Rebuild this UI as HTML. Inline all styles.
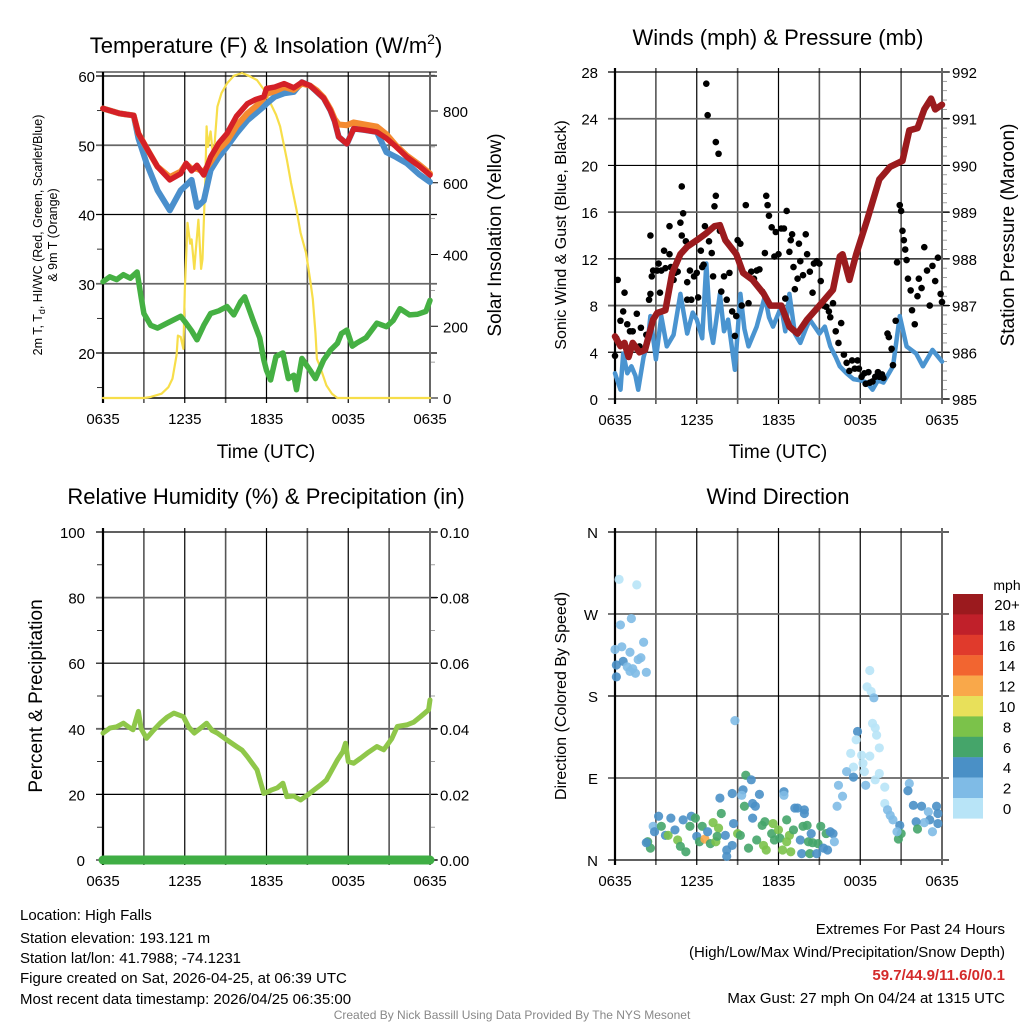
<!DOCTYPE html>
<html><head><meta charset="utf-8">
<style>
html,body{margin:0;padding:0;background:#fff;}
svg{display:block;font-family:"Liberation Sans",Arial,sans-serif;}
</style></head>
<body>
<svg id="c" width="1024" height="1024" viewBox="0 0 1024 1024" xmlns="http://www.w3.org/2000/svg">
<rect width="1024" height="1024" fill="#fff"/>
<g id="p1"></g>
<g id="p2"></g>
<g id="p3"></g>
<g id="p4"></g>
<g id="cb"></g>

<text x="266" y="53" font-size="22" text-anchor="middle">Temperature (F) &amp; Insolation (W/m<tspan dy="-9" font-size="14">2</tspan><tspan dy="9">)</tspan></text>
<text x="778" y="45" font-size="22" text-anchor="middle">Winds (mph) &amp; Pressure (mb)</text>
<text x="266" y="504" font-size="22" text-anchor="middle">Relative Humidity (%) &amp; Precipitation (in)</text>
<text x="778" y="504" font-size="22" text-anchor="middle">Wind Direction</text>

<text x="266" y="458" font-size="19" text-anchor="middle">Time (UTC)</text>
<text x="778" y="458" font-size="19" text-anchor="middle">Time (UTC)</text>

<text transform="translate(42,235) rotate(-90)" font-size="12.5" text-anchor="middle">2m T, T<tspan font-size="9" dy="3">d</tspan><tspan dy="-3">, HI/WC (Red, Green, Scarlet/Blue)</tspan></text>
<text transform="translate(57,235) rotate(-90)" font-size="12.5" text-anchor="middle">&amp; 9m T (Orange)</text>
<text transform="translate(501,235) rotate(-90)" font-size="19" text-anchor="middle">Solar Insolation (Yellow)</text>
<text transform="translate(566,235) rotate(-90)" font-size="16" text-anchor="middle">Sonic Wind &amp; Gust (Blue, Black)</text>
<text transform="translate(1014,235) rotate(-90)" font-size="19" text-anchor="middle">Station Pressure (Maroon)</text>
<text transform="translate(42,696) rotate(-90)" font-size="19" text-anchor="middle">Percent &amp; Precipitation</text>
<text transform="translate(566,696) rotate(-90)" font-size="16" text-anchor="middle">Direction (Colored By Speed)</text>

<g font-size="15">
<text x="20" y="920">Location: High Falls</text>
<text x="20" y="943">Station elevation: 193.121 m</text>
<text x="20" y="963">Station lat/lon: 41.7988; -74.1231</text>
<text x="20" y="983">Figure created on Sat, 2026-04-25, at 06:39 UTC</text>
<text x="20" y="1004">Most recent data timestamp: 2026/04/25 06:35:00</text>
</g>
<g font-size="15" text-anchor="end">
<text x="1005" y="934">Extremes For Past 24 Hours</text>
<text x="1005" y="957">(High/Low/Max Wind/Precipitation/Snow Depth)</text>
<text x="1005" y="980" fill="#d42a2a" font-weight="bold">59.7/44.9/11.6/0/0.1</text>
<text x="1005" y="1003">Max Gust: 27 mph On 04/24 at 1315 UTC</text>
</g>
<text x="512" y="1019" font-size="12" fill="#888" text-anchor="middle">Created By Nick Bassill Using Data Provided By The NYS Mesonet</text>
</svg>
<script>
// ---- Data ----
const timeLabels = ["0635","1235","1835","0035","0635"];
const tempTimes = [0,1.2,2.25,2.6,3.2,4.0,4.9,5.7,6.1,6.5,6.9,7.4,7.9,8.5,9.1,9.8,10.6,11.2,11.8,12.0,12.6,13.3,14.0,14.6,15.2,15.7,16.2,16.7,17.0,17.3,17.9,18.4,19.2,20.1,20.8,21.5,22.3,23.2,24];
const tempVals  = [55.3,54.6,54.3,51.7,49.6,46.9,45.0,45.9,47.4,46.3,47.1,45.7,48.3,50.3,51.7,54.2,56.0,56.6,57.0,58.2,58.4,58.9,58.3,59.1,58.6,57.7,56.8,55.0,53.5,51.2,50.2,52.4,52.2,51.9,51.0,49.8,48.3,47.0,45.7];
const orangeVals= [55.3,54.6,54.3,51.7,49.6,46.9,45.4,46.2,47.3,46.6,46.6,46.2,47.6,49.4,50.6,52.8,54.6,55.6,56.8,57.4,57.8,58.4,58.0,58.9,58.6,57.9,56.9,55.2,53.8,53.0,52.9,53.3,53.0,52.7,51.6,50.0,48.5,47.2,45.9];
const hiwcVals  = [55.3,54.6,54.3,51.0,47.4,43.5,40.6,43.5,44.2,45.0,41.1,42.0,46.4,48.3,49.8,51.7,53.6,54.6,55.6,56.0,57.0,57.5,57.7,59.1,58.6,57.7,56.8,55.0,53.5,51.2,50.2,52.4,52.2,51.9,49.0,48.3,47.4,45.8,44.7];
const dewTimes = [0,0.5,1.0,1.5,2.0,2.5,2.8,3.0,3.5,4.0,4.8,5.7,6.1,6.5,6.9,7.4,7.9,8.5,9.1,9.6,10.1,10.4,11.0,11.5,11.8,12.0,12.3,12.7,13.2,13.6,14.0,14.2,14.6,15.2,15.6,16.2,16.7,17.2,17.5,17.9,18.3,18.6,19.3,20.1,20.8,21.3,21.8,22.5,23.1,23.7,24];
const dewVals  = [30.3,31.0,30.6,31.3,30.8,31.7,28.0,25.7,24.0,23.6,24.4,25.3,24.3,23.2,21.9,24.0,25.7,26.1,26.7,25.5,27.4,28.1,24.8,22.2,19.0,17.5,16.1,19.5,20.0,16.3,16.8,14.7,19.2,17.5,16.3,19.0,20.4,21.4,22.8,23.3,21.0,21.4,22.2,24.3,23.8,24.7,26.4,25.5,25.6,26.0,27.6];
const solTimes = [0,3,3.5,4.3,4.8,5.1,5.4,5.5,5.7,5.9,6.0,6.2,6.4,6.5,6.7,6.8,7.0,7.2,7.3,7.5,7.6,7.7,7.9,8.1,8.4,8.7,9.1,9.6,10.2,10.7,11.3,11.8,12.3,12.7,13.0,13.5,13.8,14.2,14.5,14.9,15.2,15.4,15.6,15.7,15.9,16.4,16.8,17.2,24];
const solVals  = [0,0,3,12,30,54,120,174,170,137,300,488,430,442,360,405,497,360,387,600,757,700,743,664,812,850,877,898,906,898,886,860,821,790,757,664,600,525,460,405,330,276,180,109,91,35,12,0,0];
const windTimes = [0,0.4,0.6,0.9,1.2,1.5,1.7,2.1,2.4,2.6,3.0,3.4,3.8,4.3,4.8,5.3,5.7,6.0,6.4,6.7,7.0,7.2,7.7,8.0,8.3,8.8,9.2,9.5,9.8,10.4,11.0,11.3,11.6,12.2,12.5,12.8,13.2,13.6,14.0,14.3,15.0,15.4,15.8,16.2,16.5,17.0,17.5,18.0,18.5,18.9,19.3,19.7,20.1,20.4,20.9,21.4,22.1,22.6,23.0,23.3,24];
const windVals  = [2.2,0.8,3.9,2.2,2.8,2.0,0.8,3.6,4.8,7.1,3.4,7.1,4.5,5.5,9.0,5.6,7.4,6.8,5.2,11.6,6.0,4.8,9.0,5.8,6.8,2.5,9.0,6.0,4.5,6.2,8.8,7.0,6.2,7.9,5.8,9.0,5.6,4.8,6.0,6.8,5.6,6.2,4.5,3.6,2.8,2.2,1.7,1.6,1.4,0.8,1.6,1.4,2.2,2.8,7.1,4.5,3.9,2.8,3.6,4.2,3.2];
const presTimes = [0,0.4,0.7,1.0,1.3,1.8,2.2,2.8,3.1,3.7,4.2,4.8,5.3,6.0,6.7,7.3,7.7,8.1,8.9,9.4,10.1,10.9,11.4,12.2,12.8,13.4,14.1,15.0,16.0,16.5,16.7,17.2,17.7,18.5,19.4,20.2,21.1,21.6,22.2,22.7,23.2,23.5,24];
const presVals  = [986.34,986.13,986.2,985.9,986.2,986.0,986.05,986.7,986.84,986.9,987.7,988.1,988.26,988.4,988.55,988.7,988.72,988.4,988.1,987.7,987.55,987.26,987.0,987.0,986.55,986.4,986.7,987.0,987.34,988.05,988.1,987.55,988.1,988.83,989.7,989.97,990.1,990.75,990.8,991.2,991.43,991.2,991.3];
const gustTimes = [0,0.1,0.2,0.4,0.6,0.7,0.9,1.1,1.3,1.6,1.8,1.9,2.3,2.5,2.6,2.6,2.7,2.8,3.1,3.2,3.3,3.4,3.6,3.7,4,4,4.1,4.3,4.4,4.6,4.8,4.9,4.9,5,5.2,5.3,5.3,5.5,5.6,5.8,6,6.1,6.3,6.4,6.5,6.6,6.7,6.8,6.9,7.1,7.2,7.3,7.4,7.4,7.6,7.7,7.8,8,8.2,8.4,8.6,8.8,8.9,9,9.2,9.3,9.6,9.8,10,10.2,10.4,10.6,10.8,11,11.1,11.2,11.3,11.5,11.7,11.8,12,12.2,12.4,12.5,12.6,12.8,12.9,13,13.1,13.2,13.4,13.5,13.6,13.8,14,14.1,14.3,14.5,14.6,14.8,15,15.1,15.3,15.5,15.7,15.8,16,16.2,16.4,16.6,16.8,17,17.2,17.4,17.6,17.8,17.9,18.1,18.3,18.4,18.6,18.7,18.9,19.1,19.3,19.4,19.6,19.7,20,20.1,20.3,20.4,20.6,20.7,20.9,21,21.1,21.2,21.3,21.4,21.5,21.7,21.8,22,22.2,22.3,22.5,22.7,22.9,23.1,23.3,23.5,23.7,23.9,24];
const gustVals  = [3.7,5.2,10.2,6.7,7.5,9.1,6.4,5.8,5.8,7.3,4.5,6.1,5.5,8.5,9,14,10.5,11,11,11.6,9.1,11,12.7,11.2,14.8,12.4,11.3,10.2,10.8,10.9,15.1,14,18.2,15.9,13.5,8.5,10,11,8.5,10.5,10.8,8.7,12.7,11.3,11.5,14.8,27,24.3,13.5,12.5,10.5,16.5,17.4,22,21,14.4,9.2,10.5,8.5,10.8,7.5,5.4,7.1,13.6,13.3,8,16.6,8.2,10.9,10.3,11,11.1,9.2,12.5,17.4,16.6,15.7,14.7,12.2,14.3,12.4,14.6,14.6,8.6,16.1,12.6,13.6,14.1,11.3,9.4,10.3,13.3,11.8,10.6,14.1,12.4,10.9,9.1,11.6,11.8,11.6,10.1,8,7.9,7.5,7,8.2,5.8,4.8,6.5,3.8,3.1,2.4,3.3,2.6,3.3,2.6,1.9,2.2,1.3,2.3,1.4,1.5,1.9,2.3,1.9,2.1,1.8,5.6,5.3,4.3,2.9,6.7,11.7,16.6,16.1,14.4,13.6,12.8,11.9,10.3,9.3,7.6,6.4,8.8,10.3,9.5,13,11,8,11.4,10.1,12.1,9,8.3];
const rhTimes = [0,0.5,1.0,1.5,1.9,2.2,2.6,2.8,3.2,3.7,4.2,4.7,5.2,5.9,6.3,6.7,7.1,7.6,8.0,8.4,9.1,9.8,10.2,10.6,11.3,11.8,12.1,12.4,12.8,13.2,13.5,14.0,14.5,15.0,15.5,16.0,16.4,17.2,17.6,17.8,18.0,18.4,18.9,19.4,20.1,20.6,21.2,21.6,22.3,22.8,23.3,23.9,24];
const rhVals  = [38.7,40.2,40.6,41.7,40.5,39.7,45.3,40.0,37.1,39.5,41.7,43.5,44.8,43.7,40.5,38.7,40.0,41.7,39.5,38.7,36.6,34.6,33.5,31.5,27.5,20.3,20.8,21.4,22.0,23.4,19.3,19.5,18.3,19.8,21.4,23.0,24.4,30.5,33.0,35.6,30.0,29.5,31.0,32.6,34.6,33.6,37.0,40.7,41.2,42.0,43.7,45.8,48.8];
const precipTimes = [0,24];
const precipVals  = [0,0];
const dirTimes = [0.3,1.6,0.4,1.2,0,0.5,1.1,2.1,0.1,0.1,0.6,0.9,1.3,1.7,1.9,2.3,1.5,1.1,8.8,18.7,18.5,18.8,19,18.9,19.1,19.2,19.4,17.8,17.7,17.3,18.1,18.7,17.5,18.2,17,18.3,19.4,17.5,18.4,19.1,19.8,16.4,16.7,16.3,19.8,20,20.2,20.4,21.6,21.5,21.9,22.5,23,23.6,23.7,23.1,23.7,23.3,22.7,22.1,20.9,22.2,21,20.8,20.7,2.4,2.6,2.3,2.8,2.9,3.2,3.4,3.7,3.9,4.1,4.4,4.6,4.8,5,5.2,5.5,5.6,5.9,6,6.2,6.4,6.6,6.8,7,7.2,7.4,7.6,7.5,7.7,7.8,8.1,8.2,8.2,8.6,8.6,8.7,9,9.2,9.4,9.3,9.6,9.5,10,10.1,10.3,10.4,9.8,10.1,10.6,10.8,11,10.9,11.1,11.5,11.6,11.7,12,12.1,12.3,12.4,12.4,12.6,12.6,12.8,12.9,13.1,13.2,13.4,13.7,13.6,13.9,13.9,13.8,14.1,14.3,14.2,14.4,14.5,14.8,14.9,15.1,15.3,15.5,15.6,15.8,16,16.1];
const dirVals  = [308,302,258,265,231,234,228,239,214,201,218,212,210,220,222,206,205,207,153,208,190,185,178,150,145,137,123,141,132,117,115,114,102,106,97,97,95,91,82,88,80,82,70,59,62,55,49,44,84,76,60,59,53,59,51,44,40,31,41,42,38,34,29,23,31,20,13,19,37,31,48,37,27,27,46,33,22,15,44,9,37,48,46,26,20,37,23,31,18,41,20,35,26,68,51,27,11,4,73,16,40,29,27,77,71,93,59,88,62,59,22,13,46,72,38,42,16,11,29,40,22,33,24,11,75,71,44,20,27,9,33,57,57,7,22,55,51,37,38,7,20,29,19,7,18,37,13,29,11,31,29,20];
const dirSpeeds= [1,1,3,3,3,3,3,3,4,5,4,3,3,3,3,3,3,3,3,1,1,1,3,1,1,1,1,4,1,1,1,1,1,1,3,1,1,4,3,1,1,3,3,3,1,3,3,3,3,4,4,4,3,4,4,4,4,2,3,4,4,6,6,6,3,6,6,4,2,4,4,6,4,8,4,4,8,6,4,6,6,4,6,4,6,6,12,4,6,8,8,8,6,4,6,4,4,4,4,4,4,8,6,4,2,6,6,4,4,4,6,6,4,4,6,6,8,8,6,8,6,8,6,8,4,2,6,8,8,8,6,4,4,4,4,4,4,6,6,6,6,4,6,4,6,6,4,6,4,4,4,2];
const cbLabels = ["20+","18","16","14","12","10","8","6","4","2","0"];
const cbColors = ["#9b1a1e","#c0202a","#e03a2c","#f26530","#f9a84a","#e8e05a","#7bc24a","#45a56a","#4a90c6","#7fbbe6","#b8e4f7"];

// ---- helpers ----
const NS="http://www.w3.org/2000/svg";
function mk(parent,tag,attrs){const e=document.createElementNS(NS,tag);for(const k in attrs)e.setAttribute(k,attrs[k]);parent.appendChild(e);return e;}
function scale(d0,d1,r0,r1){return v=>r0+(v-d0)*(r1-r0)/(d1-d0);}
const PW={x0:103,x1:430};
function frame(g,x0,x1,y0,y1,yt,labels,lx,rt,rlabels,rx,minorL,minorR){
  const gx=scale(0,24,x0,x1);
  for(let h=0;h<=24;h+=3){
    const l=mk(g,'line',{x1:gx(h),x2:gx(h),y1:y0-4,y2:y1+5,stroke:(h%6==0)?'#000':'#555','stroke-width':(h%6==0)?1.2:1.6});
    
    
  }
  yt.forEach((t,i)=>{
    const l=mk(g,'line',{x1:x0-7,x2:x1+7,y1:t,y2:t,stroke:i%2?'#666':'#000','stroke-width':i%2?1.8:1.2});
    
    
    if(labels){const tx=mk(g,'text',{x:lx,y:t+6,'font-size':15,'text-anchor':'end'});tx.textContent=labels[i];
      
      }
  });
  (minorL||[]).forEach(t=>mk(g,'line',{x1:x0-6,x2:x0,y1:t,y2:t,stroke:'#000','stroke-width':0.8}));
  (rt||[]).forEach((t,i)=>{mk(g,'line',{x1:x1,x2:x1+8,y1:t,y2:t,stroke:'#000','stroke-width':1});
    const tx=mk(g,'text',{x:rx,y:t+6,'font-size':15});tx.textContent=rlabels[i];
    
    });
  (minorR||[]).forEach(t=>mk(g,'line',{x1:x1,x2:x1+5,y1:t,y2:t,stroke:'#888','stroke-width':0.8}));
  mk(g,'line',{x1:x0,x2:x0,y1:y0-4,y2:y1+5,stroke:'#000','stroke-width':2.2});
  mk(g,'line',{x1:x1,x2:x1,y1:y0-4,y2:y1+5,stroke:'#666','stroke-width':2});
  timeLabels.forEach((t,i)=>{const tx=mk(g,'text',{x:gx(i*6),y:y1+26,'font-size':15,'text-anchor':'middle'});tx.textContent=t;
    
    });
  return gx;
}
function line(g,xs,ys,fx,fy,color,w,name){
  const d=xs.map((x,i)=>(i?'L':'M')+fx(x).toFixed(1)+' '+fy(ys[i]).toFixed(1)).join(' ');
  const p=mk(g,'path',{d:d,fill:'none',stroke:color,'stroke-width':w,'stroke-linejoin':'round','stroke-linecap':'round'});
  
  
}

// ---- Panel 1 ----
{
const g=document.getElementById('p1');
const ty=scale(60,20,76,353), sy=scale(0,800,398,111);
const yt=[60,50,40,30,20].map(ty);
const gx=frame(g,103,430,76,398,yt,["60","50","40","30","20"],95,[800,600,400,200,0].map(sy),["800","600","400","200","0"],443,[55,45,35,25,15].map(ty),[900,700,500,300,100].map(sy));
mk(g,'line',{x1:96,x2:437,y1:72,y2:72,stroke:'#000','stroke-width':1});
mk(g,'line',{x1:103,x2:430,y1:398,y2:398,stroke:'#000','stroke-width':1.5});
line(g,solTimes,solVals,gx,sy,'#f7de4a',2.2,'insolation-line');
line(g,dewTimes,dewVals,gx,ty,'#45b043',5.5,'dewpoint-line');
line(g,tempTimes,hiwcVals,gx,ty,'#4a8fcc',6,'heat-index-line');
line(g,tempTimes,orangeVals,gx,ty,'#f48a30',6,'nine-m-temp-line');
line(g,tempTimes,tempVals,gx,ty,'#d42027',5.5,'temperature-line');
}
// ---- Panel 2 ----
{
const g=document.getElementById('p2');
const wy=scale(0,28,399,72), py=scale(985,992,399,72);
const yt=[28,24,20,16,12,8,4,0].map(wy);
const gx=frame(g,615,942,72,399,yt,["28","24","20","16","12","8","4","0"],598,[992,991,990,989,988,987,986,985].map(py),["992","991","990","989","988","987","986","985"],952,[],
 [].concat(...[985,986,987,988,989,990,991].map(b=>[0.2,0.4,0.6,0.8].map(f=>py(b+f)))));
line(g,windTimes,windVals,gx,wy,'#4a94d0',4.5,'sonic-wind-line');
gustTimes.forEach((t,i)=>{const c=mk(g,'circle',{cx:gx(t),cy:wy(gustVals[i]),r:3.3,fill:'#000'});
  
  });
line(g,presTimes,presVals,gx,py,'#9b1b1e',6.5,'pressure-line');
}
// ---- Panel 3 ----
{
const g=document.getElementById('p3');
const ry=scale(0,100,860,532), qy=scale(0,0.1,860,532);
const yt=[100,80,60,40,20,0].map(ry);
const gx=frame(g,103,430,532,860,yt,["100","80","60","40","20","0"],85,[0.1,0.08,0.06,0.04,0.02,0].map(qy),["0.10","0.08","0.06","0.04","0.02","0.00"],440,[90,70,50,30,10].map(ry),[0.09,0.07,0.05,0.03,0.01].map(qy));
line(g,precipTimes,precipVals,gx,qy,'#3fae44',9,'precipitation-line');
line(g,rhTimes,rhVals,gx,ry,'#8fc74a',5,'relative-humidity-line');
}
// ---- Panel 4 ----
{
const g=document.getElementById('p4');
const dy=scale(0,360,860,532);
const yt=[360,270,180,90,0].map(dy);
const gx=frame(g,615,942,532,860,yt,["N","W","S","E","N"],598);
dirTimes.forEach((t,i)=>{const idx=10-Math.min(10,Math.floor(dirSpeeds[i]/2));
  const c=mk(g,'circle',{cx:gx(t),cy:dy(dirVals[i]),r:4.6,fill:cbColors[idx],'fill-opacity':0.9});
  
  });
}
// ---- Colorbar ----
{
const g=document.getElementById('cb');
const t=mk(g,'text',{x:1007,y:590,'font-size':14,'text-anchor':'middle'});t.textContent='mph';
cbColors.forEach((c,i)=>{const r=mk(g,'rect',{x:953,y:594+i*20.4,width:30,height:20.6,fill:c});
  
  
  const tx=mk(g,'text',{x:1007,y:610+i*20.4,'font-size':15,'text-anchor':'middle'});tx.textContent=cbLabels[i];
  
  });
}
</script>
</body></html>
